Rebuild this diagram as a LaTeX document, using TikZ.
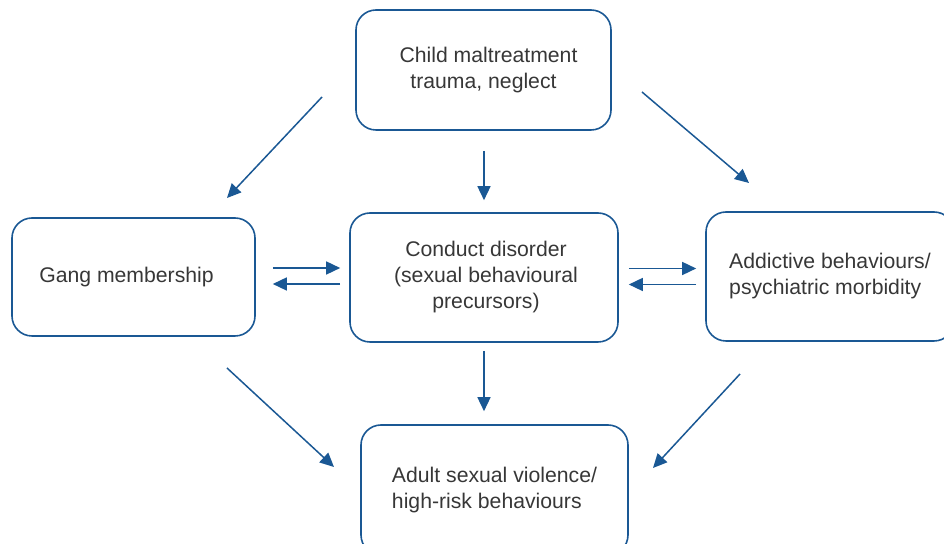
\documentclass[tikz,border=0pt]{standalone}
\usepackage{fontspec}
\setmainfont{Liberation Sans}
\usetikzlibrary{arrows.meta}
\definecolor{flowblue}{RGB}{26,88,148}
\definecolor{flowtext}{RGB}{55,55,55}

\begin{document}
\begin{tikzpicture}[x=0.5pt, y=-0.5pt,
      every node/.style = {shape=rectangle, rounded corners=10pt,
        draw=flowblue, line width=0.8pt, text=flowtext, inner sep=0pt,
        font=\fontsize{10.6}{13}\selectfont},
      flow/.style = {draw=flowblue, line width=0.75pt,
        -{Triangle[length=7pt, width=6.5pt]}}]
      \useasboundingbox (0,0) rectangle (944,544);
      % boxes
      \node[minimum width=127.5pt, minimum height=60pt, align=center] (child) at (483.5,70)
        {\hspace{5pt}Child maltreatment\\trauma, neglect};
      \node[minimum width=121.5pt, minimum height=59pt, align=center] (gang) at (133.5,277)
        {Gang membership\hspace{7pt}};
      \node[minimum width=134pt, minimum height=64.5pt, align=center] (conduct) at (484,277.5)
        {\hspace{2pt}Conduct disorder\\\hspace{2pt}(sexual behavioural\\\hspace{2pt}precursors)};
      \node[minimum width=124pt, minimum height=64.5pt, align=left] (addict) at (830,276.5)
        {Addictive behaviours/\\psychiatric morbidity};
      \node[minimum width=133.5pt, minimum height=65pt, align=left] (adult) at (494.5,490)
        {Adult sexual violence/\\high-risk behaviours};
      % free ends of the slanted arrows
      \coordinate (cgA) at (322,97);  \coordinate (cgB) at (227,198);
      \coordinate (caA) at (642,92);  \coordinate (caB) at (749,183);
      \coordinate (gvA) at (227,368); \coordinate (gvB) at (334,467);
      \coordinate (avA) at (740,374); \coordinate (avB) at (653,468);
      % arrows
      \draw[flow] (cgA) -- (cgB);
      \draw[flow] (caA) -- (caB);
      \draw[flow] (gvA) -- (gvB);
      \draw[flow] (avA) -- (avB);
      \draw[flow, shorten <=10pt, shorten >=6pt] (child.south -| conduct.north) -- (conduct.north);
      \draw[flow, shorten <=4pt, shorten >=6.5pt] (conduct.south) -- (conduct.south |- adult.north);
      \draw[flow, shorten <=8.5pt, shorten >=4.5pt]
        ([yshift=4.5pt]gang.east) -- ([yshift=4.5pt]gang.east -| conduct.west);
      \draw[flow, shorten <=4.5pt, shorten >=8.5pt]
        ([yshift=-3.5pt]gang.east -| conduct.west) -- ([yshift=-3.5pt]gang.east);
      \draw[flow, shorten <=5pt, shorten >=4.5pt]
        ([yshift=4.5pt]conduct.east) -- ([yshift=4.5pt]conduct.east -| addict.west);
      \draw[flow, shorten <=4.5pt, shorten >=5pt]
        ([yshift=-3.5pt]conduct.east -| addict.west) -- ([yshift=-3.5pt]conduct.east);
\end{tikzpicture}
\end{document}
